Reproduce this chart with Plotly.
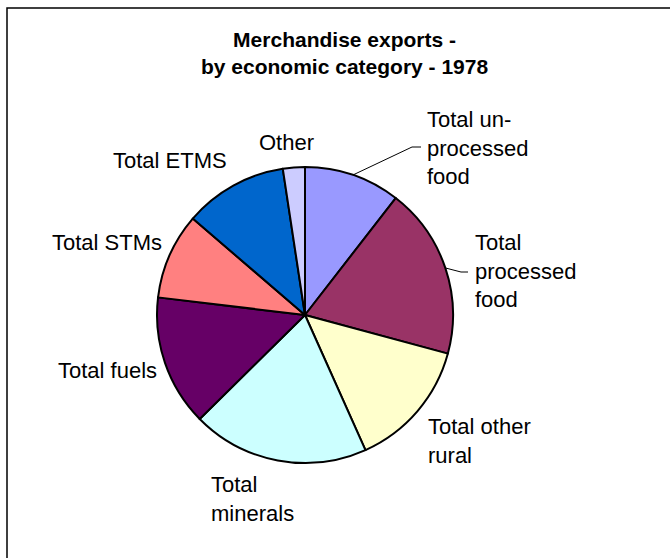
import math
import plotly.graph_objects as go

W, H = 670, 558

# ---- data ----
categories = ["Total un-processed food", "Total processed food", "Total other rural",
              "Total minerals", "Total fuels", "Total STMs", "Total ETMS", "Other"]
values = [10.5, 18.7, 14.1, 19.3, 14.3, 9.4, 11.3, 2.4]
colors = ["#9999FF", "#993366", "#FFFFCC", "#CCFFFF", "#660066", "#FF8080", "#0066CC", "#CCCCFF"]
label_texts = ["Total un-<br>processed<br>food", "Total<br>processed<br>food", "Total other<br>rural",
               "Total<br>minerals", "Total fuels", "Total STMs", "Total ETMS", "Other"]
title_text = "<b>Merchandise exports -<br>by economic category - 1978</b>"

# ---- layout geometry (pixels) ----
cx, cy, R = 305, 315, 148
# label anchor: (x px, y px of block centre, xanchor)
label_pos = [(425, 147.5, "left"), (473, 271, "left"), (426, 441, "left"),
             (209, 498.5, "left"), (159, 370, "right"), (164, 242.7, "right"),
             (229, 160.7, "right"), (257, 142.7, "left")]
leader_for = {0: (412, 147, 421), 1: (461, 272, 468)}

def px(x):
    return x / W

def py(y):
    return 1 - y / H

FONT = "Liberation Sans, Arial, sans-serif"

fig = go.Figure(go.Pie(
    labels=categories, values=values, sort=False, direction="clockwise", rotation=0,
    marker=dict(colors=colors, line=dict(color="black", width=2)),
    textinfo="none", hoverinfo="label+percent", showlegend=False,
    domain=dict(x=[px(cx - R), px(cx + R)], y=[py(cy + R), py(cy - R)]),
))

annotations = [dict(text=title_text, x=px(344), y=py(52.5), xref="paper", yref="paper",
                    xanchor="center", yanchor="middle", showarrow=False, align="center",
                    font=dict(family=FONT, size=21, color="black"))]
for txt, (x, y, xa) in zip(label_texts, label_pos):
    annotations.append(dict(text=txt, x=px(x), y=py(y), xref="paper", yref="paper",
                            xanchor=xa, yanchor="middle", showarrow=False, align=xa,
                            font=dict(family=FONT, size=22, color="black")))

shapes = [dict(type="rect", xref="paper", yref="paper", x0=px(7), x1=1.2, y0=-0.2, y1=py(8),
               line=dict(color="black", width=1.5), fillcolor="rgba(0,0,0,0)")]

# leader lines computed from slice mid-angles
total = sum(values)
cum = 0
for i, v in enumerate(values):
    mid = (cum + v / 2) / total * 2 * math.pi
    cum += v
    if i in leader_for:
        ex, ey, hx = leader_for[i]
        sx = cx + R * math.sin(mid)
        sy = cy - R * math.cos(mid)
        path = f"M {px(sx)},{py(sy)} L {px(ex)},{py(ey)} L {px(hx)},{py(ey)}"
        shapes.append(dict(type="path", xref="paper", yref="paper", path=path,
                           line=dict(color="black", width=1)))

fig.update_layout(width=W, height=H, margin=dict(l=0, r=0, t=0, b=0),
                  paper_bgcolor="white", plot_bgcolor="white",
                  annotations=annotations, shapes=shapes,
                  font=dict(family=FONT))

fig.write_html("out.html")
